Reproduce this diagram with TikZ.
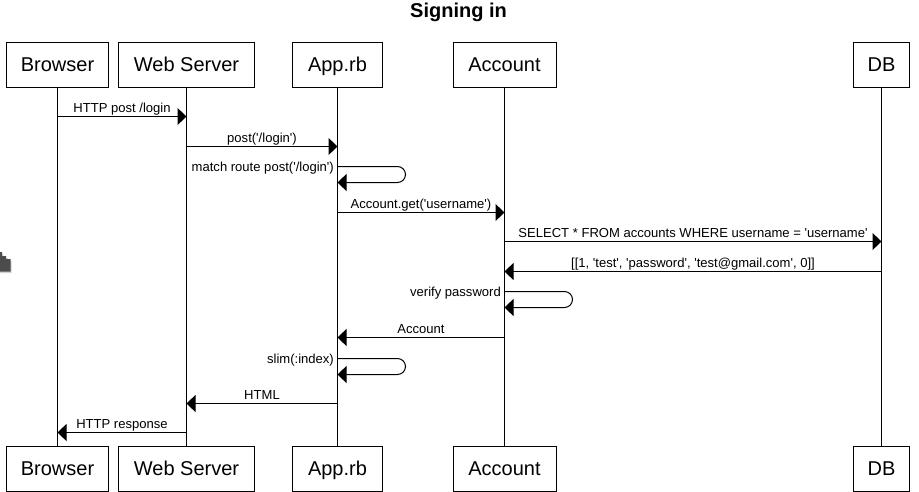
\documentclass[tikz,border=0pt]{standalone}
\usepackage{fontspec}
\newfontfamily\diagramfont{Liberation Sans}
\usetikzlibrary{arrows.meta}
\tikzset{
  actorbox/.style={draw, line width=1pt, minimum height=45pt, inner sep=0pt, text height=16pt, text depth=3pt, font=\diagramfont\fontsize{20}{24}\selectfont},
  lifeline/.style={line width=1pt},
  msgline/.style={line width=1pt, -{Triangle[length=9pt,width=17pt]}},
  selfline/.style={msgline, rounded corners=8pt},
  msglabel/.style={above, inner xsep=0pt, inner ysep=0.2pt, text height=10pt, text depth=3pt, font=\diagramfont\fontsize{13.05}{15}\selectfont},
  selflabel/.style={left, yshift=-1.8pt, inner xsep=3.5pt, inner ysep=0pt, text height=10pt, text depth=3pt, font=\diagramfont\fontsize{13.05}{15}\selectfont}
}

\begin{document}
\begin{tikzpicture}[x=1pt, y=-1pt]
\useasboundingbox (0,0) rectangle (919,491);

\node[font=\diagramfont\bfseries\fontsize{20}{24}\selectfont] (title) at (458.5,12) {Signing in};

% Participants, top row
\node[actorbox, minimum width=102pt] (browserTop) at (57.5,65) {Browser};
\node[actorbox, minimum width=136pt] (serverTop) at (186.5,65) {Web Server};
\node[actorbox, minimum width=90pt] (appTop) at (337.5,65) {App.rb};
\node[actorbox, minimum width=103pt] (accountTop) at (504.5,65) {Account};
\node[actorbox, minimum width=56pt] (dbTop) at (881.5,65) {DB};

% Participants, bottom row
\node[actorbox, minimum width=102pt] (browserBot) at (57.5,469) {Browser};
\node[actorbox, minimum width=136pt] (serverBot) at (186.5,469) {Web Server};
\node[actorbox, minimum width=90pt] (appBot) at (337.5,469) {App.rb};
\node[actorbox, minimum width=103pt] (accountBot) at (504.5,469) {Account};
\node[actorbox, minimum width=56pt] (dbBot) at (881.5,469) {DB};

% Lifelines
\foreach \who in {browser, server, app, account, db}
  \draw[lifeline] (\who Top) -- (\who Bot);

% Message rows
\foreach \row/\y in {postRow/116.5, routeRow/146.5, matchRow/166.5, matchBack/182.5, getRow/212.5,
                     selectRow/241.5, resultRow/271.5, verifyRow/291.5, verifyBack/307.5,
                     accountRow/337.5, slimRow/358.5, slimBack/374.5, htmlRow/403.5, responseRow/432.5}
  \coordinate (\row) at (0,\y);

% Requests
\draw[msgline] (browserTop |- postRow) -- node[msglabel] (postLabel) {HTTP post /login} (serverTop |- postRow);
\draw[msgline] (serverTop |- routeRow) -- node[msglabel] (routeLabel) {post('/login')} (appTop |- routeRow);
\node[selflabel] (matchLabel) at (appTop |- matchRow) {match route post('/login')};
\draw[selfline] (appTop |- matchRow) -- ++(68,0) -- ++(0,16) -- (appTop |- matchBack);
\draw[msgline] (appTop |- getRow) -- node[msglabel] (getLabel) {Account.get('username')} (accountTop |- getRow);
\draw[msgline] (accountTop |- selectRow) -- node[msglabel] (selectLabel) {SELECT * FROM accounts WHERE username = 'username'} (dbTop |- selectRow);

% Responses
\draw[msgline] (dbTop |- resultRow) -- node[msglabel] (resultLabel) {[[1, 'test', 'password', 'test@gmail.com', 0]]} (accountTop |- resultRow);
\node[selflabel] (verifyLabel) at (accountTop |- verifyRow) {verify password};
\draw[selfline] (accountTop |- verifyRow) -- ++(68,0) -- ++(0,16) -- (accountTop |- verifyBack);
\draw[msgline] (accountTop |- accountRow) -- node[msglabel] (accountLabel) {Account} (appTop |- accountRow);
\node[selflabel] (slimLabel) at (appTop |- slimRow) {slim(:index)};
\draw[selfline] (appTop |- slimRow) -- ++(68,0) -- ++(0,16) -- (appTop |- slimBack);
\draw[msgline] (appTop |- htmlRow) -- node[msglabel] (htmlLabel) {HTML} (serverTop |- htmlRow);
\draw[msgline] (serverTop |- responseRow) -- node[msglabel] (responseLabel) {HTTP response} (browserTop |- responseRow);

% Cursor at the left edge
\fill[gray!35] (0,254) -- (3,254) -- (3,258) -- (8,258) -- (8,261) -- (11.5,261) -- (11.5,273) -- (0,273) -- cycle;
\fill[black!70] (0,252) -- (2,252) -- (2,256) -- (6,256) -- (6,259) -- (10.5,259) -- (10.5,271.5) -- (0,271.5) -- cycle;
\end{tikzpicture}
\end{document}
